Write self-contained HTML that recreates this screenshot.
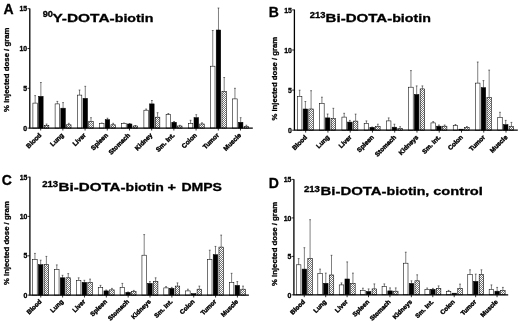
<!DOCTYPE html>
<html><head><meta charset="utf-8"><title>Biodistribution</title>
<style>
html,body{margin:0;padding:0;background:#fff;}
body{width:520px;height:322px;overflow:hidden;}
text{stroke:#000;stroke-width:0.3px;paint-order:stroke;}
svg{display:block;filter:blur(0.35px);font-family:"Liberation Sans",Arial,Helvetica,sans-serif;font-weight:bold;fill:#000;}
.ax{stroke:#000;stroke-width:1.3;fill:none;}
.tk{stroke:#000;stroke-width:0.8;fill:none;}
.eb{stroke:#000;stroke-width:0.5;fill:none;}
.bw{fill:#fff;stroke:#000;stroke-width:0.55;}
.bb{fill:#000;stroke:#000;stroke-width:0.55;}
.bh{fill:url(#h);stroke:#000;stroke-width:0.55;}
.yl{font-size:6.9px;text-anchor:end;}
.xl{font-size:6.5px;text-anchor:end;stroke-width:0.4px;}
.yt{font-size:7.4px;}
.pl{font-size:14px;}
.tt{font-size:11.6px;}
.sup{font-size:8.5px;}
</style></head><body>
<svg width="520" height="322" viewBox="0 0 520 322">
<defs><pattern id="h" width="2" height="2" patternUnits="userSpaceOnUse"><rect width="2" height="2" fill="#fff"/><path d="M-0.5 0.5L0.5 -0.5M0 2L2 0M1.5 2.5L2.5 1.5" stroke="#000" stroke-width="0.55" fill="none"/></pattern></defs>
<rect width="520" height="322" fill="#fff"/>

<g id="panelA">
<text class="pl" x="3.6" y="13.7">A</text>
<text class="sup" x="42.7" y="17.2" textLength="10.3" lengthAdjust="spacingAndGlyphs">90</text>
<text class="tt" y="22.2"><tspan x="52.4" textLength="62.3" lengthAdjust="spacingAndGlyphs">Y-DOTA-</tspan><tspan x="114.7" textLength="38.8" lengthAdjust="spacingAndGlyphs">biotin</tspan></text>
<text class="yt" transform="translate(9.4,111.9) rotate(-90)" textLength="84.4" lengthAdjust="spacingAndGlyphs">% injected dose / gram</text>
<path class="eb" d="M35.15 103.1V95.6M34.25 95.6h1.8"/>
<rect class="bw" x="32.90" y="103.1" width="4.5" height="25.0"/>
<path class="eb" d="M40.87 96.4V82.5M39.97 82.5h1.8"/>
<rect class="bb" x="38.62" y="96.4" width="4.5" height="31.7"/>
<path class="eb" d="M46.59 125.3V124.0M45.69 124.0h1.8"/>
<rect class="bh" x="44.34" y="125.3" width="4.5" height="2.8"/>
<path class="tk" d="M40.67 128.1v2.4"/>
<text class="xl" style="font-size:6.5px" transform="translate(41.87,135.6) rotate(-45)">Blood</text>
<path class="eb" d="M57.35 103.9V101.4M56.45 101.4h1.8"/>
<rect class="bw" x="55.10" y="103.9" width="4.5" height="24.2"/>
<path class="eb" d="M63.07 108.2V102.6M62.17 102.6h1.8"/>
<rect class="bb" x="60.82" y="108.2" width="4.5" height="19.9"/>
<path class="eb" d="M68.79 124.8V123.3M67.89 123.3h1.8"/>
<rect class="bh" x="66.54" y="124.8" width="4.5" height="3.3"/>
<path class="tk" d="M62.87 128.1v2.4"/>
<text class="xl" style="font-size:6.5px" transform="translate(64.07,135.6) rotate(-45)">Lung</text>
<path class="eb" d="M79.55 95.1V90.0M78.65 90.0h1.8"/>
<rect class="bw" x="77.30" y="95.1" width="4.5" height="33.0"/>
<path class="eb" d="M85.27 98.4V86.3M84.37 86.3h1.8"/>
<rect class="bb" x="83.02" y="98.4" width="4.5" height="29.7"/>
<path class="eb" d="M90.99 121.5V117.7M90.09 117.7h1.8"/>
<rect class="bh" x="88.74" y="121.5" width="4.5" height="6.6"/>
<path class="tk" d="M85.07 128.1v2.4"/>
<text class="xl" style="font-size:6.5px" transform="translate(86.27,135.6) rotate(-45)">Liver</text>
<path class="eb" d="M101.75 123.3V123.0M100.85 123.0h1.8"/>
<rect class="bw" x="99.50" y="123.3" width="4.5" height="4.8"/>
<path class="eb" d="M107.47 119.7V118.2M106.57 118.2h1.8"/>
<rect class="bb" x="105.22" y="119.7" width="4.5" height="8.4"/>
<path class="eb" d="M113.19 124.8V123.3M112.29 123.3h1.8"/>
<rect class="bh" x="110.94" y="124.8" width="4.5" height="3.3"/>
<path class="tk" d="M107.27 128.1v2.4"/>
<text class="xl" style="font-size:6.5px" transform="translate(108.47,135.6) rotate(-45)">Spleen</text>
<path class="eb" d="M123.95 123.3V123.0M123.05 123.0h1.8"/>
<rect class="bw" x="121.70" y="123.3" width="4.5" height="4.8"/>
<path class="eb" d="M129.67 124.0V123.5M128.77 123.5h1.8"/>
<rect class="bb" x="127.42" y="124.0" width="4.5" height="4.1"/>
<path class="eb" d="M135.39 126.0V125.5M134.49 125.5h1.8"/>
<rect class="bh" x="133.14" y="126.0" width="4.5" height="2.1"/>
<path class="tk" d="M129.47 128.1v2.4"/>
<text class="xl" style="font-size:6.5px" transform="translate(130.67,135.6) rotate(-45)">Stomach</text>
<path class="eb" d="M146.15 110.2V109.0M145.25 109.0h1.8"/>
<rect class="bw" x="143.90" y="110.2" width="4.5" height="17.9"/>
<path class="eb" d="M151.87 103.9V100.5M150.97 100.5h1.8"/>
<rect class="bb" x="149.62" y="103.9" width="4.5" height="24.2"/>
<path class="eb" d="M157.59 117.2V112.7M156.69 112.7h1.8"/>
<rect class="bh" x="155.34" y="117.2" width="4.5" height="10.9"/>
<path class="tk" d="M151.67 128.1v2.4"/>
<text class="xl" style="font-size:6.5px" transform="translate(152.87,135.6) rotate(-45)">Kidney</text>
<path class="eb" d="M168.35 114.7V113.5M167.45 113.5h1.8"/>
<rect class="bw" x="166.10" y="114.7" width="4.5" height="13.4"/>
<path class="eb" d="M174.07 122.3V121.5M173.17 121.5h1.8"/>
<rect class="bb" x="171.82" y="122.3" width="4.5" height="5.8"/>
<path class="eb" d="M179.79 126.0V125.3M178.89 125.3h1.8"/>
<rect class="bh" x="177.54" y="126.0" width="4.5" height="2.1"/>
<path class="tk" d="M173.87 128.1v2.4"/>
<text class="xl" style="font-size:6.5px" transform="translate(175.07,135.6) rotate(-45)">Sm. Int.</text>
<path class="eb" d="M190.55 123.6V120.3M189.65 120.3h1.8"/>
<rect class="bw" x="188.30" y="123.6" width="4.5" height="4.5"/>
<path class="eb" d="M196.27 117.7V114.7M195.37 114.7h1.8"/>
<rect class="bb" x="194.02" y="117.7" width="4.5" height="10.4"/>
<path class="eb" d="M201.99 124.0V122.8M201.09 122.8h1.8"/>
<rect class="bh" x="199.74" y="124.0" width="4.5" height="4.1"/>
<path class="tk" d="M196.07 128.1v2.4"/>
<text class="xl" style="font-size:6.5px" transform="translate(197.27,135.6) rotate(-45)">Colon</text>
<path class="eb" d="M212.75 66.2V30.5M211.85 30.5h1.8"/>
<rect class="bw" x="210.50" y="66.2" width="4.5" height="61.8"/>
<path class="eb" d="M218.47 30.0V8.0M217.57 8.0h1.8"/>
<rect class="bb" x="216.22" y="30.0" width="4.5" height="98.1"/>
<path class="eb" d="M224.19 91.3V77.5M223.29 77.5h1.8"/>
<rect class="bh" x="221.94" y="91.3" width="4.5" height="36.8"/>
<path class="tk" d="M218.27 128.1v2.4"/>
<text class="xl" style="font-size:6.5px" transform="translate(219.47,135.6) rotate(-45)">Tumor</text>
<path class="eb" d="M234.95 98.9V88.3M234.05 88.3h1.8"/>
<rect class="bw" x="232.70" y="98.9" width="4.5" height="29.2"/>
<path class="eb" d="M240.67 122.3V117.7M239.77 117.7h1.8"/>
<rect class="bb" x="238.42" y="122.3" width="4.5" height="5.8"/>
<path class="eb" d="M246.39 126.6V125.2M245.49 125.2h1.8"/>
<rect class="bh" x="244.14" y="126.6" width="4.5" height="1.5"/>
<path class="tk" d="M240.47 128.1v2.4"/>
<text class="xl" style="font-size:6.5px" transform="translate(241.67,135.6) rotate(-45)">Muscle</text>
<path class="ax" d="M29.8 8.4V128.1H252.8"/>
<path class="tk" d="M27.5 128.1h2.3"/>
<text class="yl" x="27.2" y="131.20">0</text>
<path class="tk" d="M27.5 88.3h2.3"/>
<text class="yl" x="27.2" y="90.91">5</text>
<path class="tk" d="M27.5 48.5h2.3"/>
<text class="yl" x="27.2" y="51.13">10</text>
<path class="tk" d="M27.5 8.7h2.3"/>
<text class="yl" x="27.2" y="11.34">15</text>
</g>
<g id="panelB">
<text class="pl" x="268.8" y="16.5">B</text>
<text class="sup" x="309.7" y="17.8" textLength="15.7" lengthAdjust="spacingAndGlyphs">213</text>
<text class="tt" y="22.2"><tspan x="325.6" textLength="66.6" lengthAdjust="spacingAndGlyphs">Bi-DOTA-</tspan><tspan x="392.2" textLength="38.7" lengthAdjust="spacingAndGlyphs">biotin</tspan></text>
<text class="yt" transform="translate(276.5,120.6) rotate(-90)" textLength="83.7" lengthAdjust="spacingAndGlyphs">% injected dose / gram</text>
<path class="eb" d="M299.65 96.5V90.2M298.75 90.2h1.8"/>
<rect class="bw" x="297.40" y="96.5" width="4.5" height="33.7"/>
<path class="eb" d="M305.37 109.0V101.5M304.47 101.5h1.8"/>
<rect class="bb" x="303.12" y="109.0" width="4.5" height="21.2"/>
<path class="eb" d="M311.09 109.0V90.7M310.19 90.7h1.8"/>
<rect class="bh" x="308.84" y="109.0" width="4.5" height="21.2"/>
<path class="tk" d="M305.67 130.2v2.4"/>
<text class="xl" style="font-size:6.45px" transform="translate(307.57,137.7) rotate(-45)">Blood</text>
<path class="eb" d="M321.91 103.3V97.2M321.01 97.2h1.8"/>
<rect class="bw" x="319.66" y="103.3" width="4.5" height="26.9"/>
<path class="eb" d="M327.63 117.9V114.0M326.73 114.0h1.8"/>
<rect class="bb" x="325.38" y="117.9" width="4.5" height="12.3"/>
<path class="eb" d="M333.35 118.4V108.3M332.45 108.3h1.8"/>
<rect class="bh" x="331.10" y="118.4" width="4.5" height="11.8"/>
<path class="tk" d="M327.93 130.2v2.4"/>
<text class="xl" style="font-size:6.45px" transform="translate(329.83,137.7) rotate(-45)">Lung</text>
<path class="eb" d="M344.17 117.1V113.3M343.27 113.3h1.8"/>
<rect class="bw" x="341.92" y="117.1" width="4.5" height="13.1"/>
<path class="eb" d="M349.89 122.1V120.4M348.99 120.4h1.8"/>
<rect class="bb" x="347.64" y="122.1" width="4.5" height="8.1"/>
<path class="eb" d="M355.61 121.1V114.1M354.71 114.1h1.8"/>
<rect class="bh" x="353.36" y="121.1" width="4.5" height="9.1"/>
<path class="tk" d="M350.19 130.2v2.4"/>
<text class="xl" style="font-size:6.45px" transform="translate(352.09,137.7) rotate(-45)">Liver</text>
<path class="eb" d="M366.43 123.4V120.9M365.53 120.9h1.8"/>
<rect class="bw" x="364.18" y="123.4" width="4.5" height="6.8"/>
<path class="eb" d="M372.15 127.4V127.0M371.25 127.0h1.8"/>
<rect class="bb" x="369.90" y="127.4" width="4.5" height="2.8"/>
<path class="eb" d="M377.87 126.7V124.2M376.97 124.2h1.8"/>
<rect class="bh" x="375.62" y="126.7" width="4.5" height="3.5"/>
<path class="tk" d="M372.45 130.2v2.4"/>
<text class="xl" style="font-size:6.45px" transform="translate(374.35,137.7) rotate(-45)">Spleen</text>
<path class="eb" d="M388.69 120.9V117.9M387.79 117.9h1.8"/>
<rect class="bw" x="386.44" y="120.9" width="4.5" height="9.3"/>
<path class="eb" d="M394.41 127.2V124.2M393.51 124.2h1.8"/>
<rect class="bb" x="392.16" y="127.2" width="4.5" height="3.0"/>
<path class="eb" d="M400.13 128.4V126.7M399.23 126.7h1.8"/>
<rect class="bh" x="397.88" y="128.4" width="4.5" height="1.8"/>
<path class="tk" d="M394.71 130.2v2.4"/>
<text class="xl" style="font-size:6.45px" transform="translate(396.61,137.7) rotate(-45)">Stomach</text>
<path class="eb" d="M410.95 87.2V70.6M410.05 70.6h1.8"/>
<rect class="bw" x="408.70" y="87.2" width="4.5" height="43.0"/>
<path class="eb" d="M416.67 94.5V85.9M415.77 85.9h1.8"/>
<rect class="bb" x="414.42" y="94.5" width="4.5" height="35.7"/>
<path class="eb" d="M422.39 88.9V85.9M421.49 85.9h1.8"/>
<rect class="bh" x="420.14" y="88.9" width="4.5" height="41.3"/>
<path class="tk" d="M416.97 130.2v2.4"/>
<text class="xl" style="font-size:6.45px" transform="translate(418.87,137.7) rotate(-45)">Kidneys</text>
<path class="eb" d="M433.21 122.9V121.6M432.31 121.6h1.8"/>
<rect class="bw" x="430.96" y="122.9" width="4.5" height="7.3"/>
<path class="eb" d="M438.93 126.2V125.0M438.03 125.0h1.8"/>
<rect class="bb" x="436.68" y="126.2" width="4.5" height="4.0"/>
<path class="eb" d="M444.65 126.2V125.0M443.75 125.0h1.8"/>
<rect class="bh" x="442.40" y="126.2" width="4.5" height="4.0"/>
<path class="tk" d="M439.23 130.2v2.4"/>
<text class="xl" style="font-size:6.45px" transform="translate(441.13,137.7) rotate(-45)">Sm. Int.</text>
<path class="eb" d="M455.47 125.7V124.5M454.57 124.5h1.8"/>
<rect class="bw" x="453.22" y="125.7" width="4.5" height="4.5"/>
<rect class="bb" x="458.94" y="129.2" width="4.5" height="1.0"/>
<path class="eb" d="M466.91 127.4V126.5M466.01 126.5h1.8"/>
<rect class="bh" x="464.66" y="127.4" width="4.5" height="2.8"/>
<path class="tk" d="M461.49 130.2v2.4"/>
<text class="xl" style="font-size:6.45px" transform="translate(463.39,137.7) rotate(-45)">Colon</text>
<path class="eb" d="M477.73 83.1V62.0M476.83 62.0h1.8"/>
<rect class="bw" x="475.48" y="83.1" width="4.5" height="47.1"/>
<path class="eb" d="M483.45 87.7V80.6M482.55 80.6h1.8"/>
<rect class="bb" x="481.20" y="87.7" width="4.5" height="42.5"/>
<path class="eb" d="M489.17 97.7V70.1M488.27 70.1h1.8"/>
<rect class="bh" x="486.92" y="97.7" width="4.5" height="32.5"/>
<path class="tk" d="M483.75 130.2v2.4"/>
<text class="xl" style="font-size:6.45px" transform="translate(485.65,137.7) rotate(-45)">Tumor</text>
<path class="eb" d="M499.99 117.4V112.3M499.09 112.3h1.8"/>
<rect class="bw" x="497.74" y="117.4" width="4.5" height="12.8"/>
<path class="eb" d="M505.71 124.7V120.4M504.81 120.4h1.8"/>
<rect class="bb" x="503.46" y="124.7" width="4.5" height="5.5"/>
<path class="eb" d="M511.43 126.7V122.4M510.53 122.4h1.8"/>
<rect class="bh" x="509.18" y="126.7" width="4.5" height="3.5"/>
<path class="tk" d="M506.01 130.2v2.4"/>
<text class="xl" style="font-size:6.45px" transform="translate(507.91,137.7) rotate(-45)">Muscle</text>
<path class="ax" d="M294.4 9.5V130.2H517.8"/>
<path class="tk" d="M292.1 130.2h2.3"/>
<text class="yl" x="291.8" y="133.30">0</text>
<path class="tk" d="M292.1 90.1h2.3"/>
<text class="yl" x="291.8" y="92.70">5</text>
<path class="tk" d="M292.1 50.0h2.3"/>
<text class="yl" x="291.8" y="52.60">10</text>
<path class="tk" d="M292.1 9.9h2.3"/>
<text class="yl" x="291.8" y="12.50">15</text>
</g>
<g id="panelC">
<text class="pl" x="1.7" y="184.7">C</text>
<text class="sup" x="42.2" y="186.7" textLength="16.0" lengthAdjust="spacingAndGlyphs">213</text>
<text class="tt" y="190.9"><tspan x="58.5" textLength="67.1" lengthAdjust="spacingAndGlyphs">Bi-DOTA-</tspan><tspan x="125.6" textLength="38.2" lengthAdjust="spacingAndGlyphs">biotin</tspan><tspan x="167.6" textLength="8.5" lengthAdjust="spacingAndGlyphs">+</tspan><tspan x="181.4" textLength="40.6" lengthAdjust="spacingAndGlyphs">DMPS</tspan></text>
<text class="yt" transform="translate(9.3,285.0) rotate(-90)" textLength="83.8" lengthAdjust="spacingAndGlyphs">% injected dose / gram</text>
<path class="eb" d="M34.95 259.7V253.4M34.05 253.4h1.8"/>
<rect class="bw" x="32.70" y="259.7" width="4.5" height="35.4"/>
<path class="eb" d="M40.67 264.7V260.2M39.77 260.2h1.8"/>
<rect class="bb" x="38.42" y="264.7" width="4.5" height="30.4"/>
<path class="eb" d="M46.39 264.7V256.4M45.49 256.4h1.8"/>
<rect class="bh" x="44.14" y="264.7" width="4.5" height="30.4"/>
<path class="tk" d="M40.77 295.1v2.4"/>
<text class="xl" style="font-size:6.35px" transform="translate(41.97,302.0) rotate(-45)">Blood</text>
<path class="eb" d="M56.80 269.6V264.9M55.90 264.9h1.8"/>
<rect class="bw" x="54.55" y="269.6" width="4.5" height="25.5"/>
<path class="eb" d="M62.52 277.8V275.3M61.62 275.3h1.8"/>
<rect class="bb" x="60.27" y="277.8" width="4.5" height="17.3"/>
<path class="eb" d="M68.24 277.8V273.6M67.34 273.6h1.8"/>
<rect class="bh" x="65.99" y="277.8" width="4.5" height="17.3"/>
<path class="tk" d="M62.62 295.1v2.4"/>
<text class="xl" style="font-size:6.35px" transform="translate(63.82,302.0) rotate(-45)">Lung</text>
<path class="eb" d="M78.65 280.3V277.8M77.75 277.8h1.8"/>
<rect class="bw" x="76.40" y="280.3" width="4.5" height="14.8"/>
<path class="eb" d="M84.37 282.4V280.3M83.47 280.3h1.8"/>
<rect class="bb" x="82.12" y="282.4" width="4.5" height="12.7"/>
<path class="eb" d="M90.09 282.4V279.1M89.19 279.1h1.8"/>
<rect class="bh" x="87.84" y="282.4" width="4.5" height="12.7"/>
<path class="tk" d="M84.47 295.1v2.4"/>
<text class="xl" style="font-size:6.35px" transform="translate(85.67,302.0) rotate(-45)">Liver</text>
<path class="eb" d="M100.50 287.4V285.4M99.60 285.4h1.8"/>
<rect class="bw" x="98.25" y="287.4" width="4.5" height="7.7"/>
<path class="eb" d="M106.22 290.9V290.0M105.32 290.0h1.8"/>
<rect class="bb" x="103.97" y="290.9" width="4.5" height="4.2"/>
<path class="eb" d="M111.94 289.9V288.4M111.04 288.4h1.8"/>
<rect class="bh" x="109.69" y="289.9" width="4.5" height="5.2"/>
<path class="tk" d="M106.32 295.1v2.4"/>
<text class="xl" style="font-size:6.35px" transform="translate(107.52,302.0) rotate(-45)">Spleen</text>
<path class="eb" d="M122.35 287.4V283.4M121.45 283.4h1.8"/>
<rect class="bw" x="120.10" y="287.4" width="4.5" height="7.7"/>
<path class="eb" d="M128.07 292.4V292.0M127.17 292.0h1.8"/>
<rect class="bb" x="125.82" y="292.4" width="4.5" height="2.7"/>
<path class="eb" d="M133.79 291.7V290.4M132.89 290.4h1.8"/>
<rect class="bh" x="131.54" y="291.7" width="4.5" height="3.4"/>
<path class="tk" d="M128.17 295.1v2.4"/>
<text class="xl" style="font-size:6.35px" transform="translate(129.37,302.0) rotate(-45)">Stomach</text>
<path class="eb" d="M144.20 255.2V234.6M143.30 234.6h1.8"/>
<rect class="bw" x="141.95" y="255.2" width="4.5" height="39.9"/>
<path class="eb" d="M149.92 283.4V281.6M149.02 281.6h1.8"/>
<rect class="bb" x="147.67" y="283.4" width="4.5" height="11.7"/>
<path class="eb" d="M155.64 281.6V277.8M154.74 277.8h1.8"/>
<rect class="bh" x="153.39" y="281.6" width="4.5" height="13.5"/>
<path class="tk" d="M150.02 295.1v2.4"/>
<text class="xl" style="font-size:6.35px" transform="translate(151.22,302.0) rotate(-45)">Kidneys</text>
<path class="eb" d="M166.05 287.9V286.6M165.15 286.6h1.8"/>
<rect class="bw" x="163.80" y="287.9" width="4.5" height="7.2"/>
<path class="eb" d="M171.77 288.4V287.4M170.87 287.4h1.8"/>
<rect class="bb" x="169.52" y="288.4" width="4.5" height="6.7"/>
<path class="eb" d="M177.49 286.1V282.9M176.59 282.9h1.8"/>
<rect class="bh" x="175.24" y="286.1" width="4.5" height="9.0"/>
<path class="tk" d="M171.87 295.1v2.4"/>
<text class="xl" style="font-size:6.35px" transform="translate(173.07,302.0) rotate(-45)">Sm. Int.</text>
<path class="eb" d="M187.90 290.9V289.2M187.00 289.2h1.8"/>
<rect class="bw" x="185.65" y="290.9" width="4.5" height="4.2"/>
<rect class="bb" x="191.37" y="293.7" width="4.5" height="1.4"/>
<path class="eb" d="M199.34 289.2V286.1M198.44 286.1h1.8"/>
<rect class="bh" x="197.09" y="289.2" width="4.5" height="5.9"/>
<path class="tk" d="M193.72 295.1v2.4"/>
<text class="xl" style="font-size:6.35px" transform="translate(194.92,302.0) rotate(-45)">Colon</text>
<path class="eb" d="M209.75 259.7V250.2M208.85 250.2h1.8"/>
<rect class="bw" x="207.50" y="259.7" width="4.5" height="35.4"/>
<path class="eb" d="M215.47 254.7V246.4M214.57 246.4h1.8"/>
<rect class="bb" x="213.22" y="254.7" width="4.5" height="40.4"/>
<path class="eb" d="M221.19 247.1V235.1M220.29 235.1h1.8"/>
<rect class="bh" x="218.94" y="247.1" width="4.5" height="48.0"/>
<path class="tk" d="M215.57 295.1v2.4"/>
<text class="xl" style="font-size:6.35px" transform="translate(216.77,302.0) rotate(-45)">Tumor</text>
<path class="eb" d="M231.60 282.4V273.3M230.70 273.3h1.8"/>
<rect class="bw" x="229.35" y="282.4" width="4.5" height="12.7"/>
<path class="eb" d="M237.32 285.4V281.6M236.42 281.6h1.8"/>
<rect class="bb" x="235.07" y="285.4" width="4.5" height="9.7"/>
<path class="eb" d="M243.04 289.2V286.1M242.14 286.1h1.8"/>
<rect class="bh" x="240.79" y="289.2" width="4.5" height="5.9"/>
<path class="tk" d="M237.42 295.1v2.4"/>
<text class="xl" style="font-size:6.35px" transform="translate(238.62,302.0) rotate(-45)">Muscle</text>
<path class="ax" d="M29.9 176.8V295.1H248.9"/>
<path class="tk" d="M27.6 295.1h2.3"/>
<text class="yl" x="27.3" y="298.20">0</text>
<path class="tk" d="M27.6 255.8h2.3"/>
<text class="yl" x="27.3" y="258.35">5</text>
<path class="tk" d="M27.6 216.4h2.3"/>
<text class="yl" x="27.3" y="219.00">10</text>
<path class="tk" d="M27.6 177.1h2.3"/>
<text class="yl" x="27.3" y="179.65">15</text>
</g>
<g id="panelD">
<text class="pl" x="268.8" y="187.7">D</text>
<text class="sup" x="303.9" y="191.5" textLength="16.0" lengthAdjust="spacingAndGlyphs">213</text>
<text class="tt" y="195.2"><tspan x="320.6" textLength="66.0" lengthAdjust="spacingAndGlyphs">Bi-DOTA-</tspan><tspan x="386.6" textLength="42.7" lengthAdjust="spacingAndGlyphs">biotin,</tspan><tspan x="433.2" textLength="49.7" lengthAdjust="spacingAndGlyphs">control</tspan></text>
<text class="yt" transform="translate(276.6,286.0) rotate(-90)" textLength="84.1" lengthAdjust="spacingAndGlyphs">% injected dose / gram</text>
<path class="eb" d="M298.65 264.8V258.6M297.75 258.6h1.8"/>
<rect class="bw" x="296.40" y="264.8" width="4.5" height="30.0"/>
<path class="eb" d="M304.37 269.1V247.7M303.47 247.7h1.8"/>
<rect class="bb" x="302.12" y="269.1" width="4.5" height="25.7"/>
<path class="eb" d="M310.09 258.6V219.7M309.19 219.7h1.8"/>
<rect class="bh" x="307.84" y="258.6" width="4.5" height="36.2"/>
<path class="tk" d="M304.27 294.8v2.4"/>
<text class="xl" style="font-size:6.3px" transform="translate(305.37,302.3) rotate(-45)">Blood</text>
<path class="eb" d="M320.07 273.4V269.1M319.17 269.1h1.8"/>
<rect class="bw" x="317.82" y="273.4" width="4.5" height="21.4"/>
<path class="eb" d="M325.79 283.3V273.1M324.89 273.1h1.8"/>
<rect class="bb" x="323.54" y="283.3" width="4.5" height="11.5"/>
<path class="eb" d="M331.51 275.0V255.3M330.61 255.3h1.8"/>
<rect class="bh" x="329.26" y="275.0" width="4.5" height="19.8"/>
<path class="tk" d="M325.69 294.8v2.4"/>
<text class="xl" style="font-size:6.3px" transform="translate(326.79,302.3) rotate(-45)">Lung</text>
<path class="eb" d="M341.49 284.9V282.9M340.59 282.9h1.8"/>
<rect class="bw" x="339.24" y="284.9" width="4.5" height="9.9"/>
<path class="eb" d="M347.21 279.0V261.9M346.31 261.9h1.8"/>
<rect class="bb" x="344.96" y="279.0" width="4.5" height="15.8"/>
<path class="eb" d="M352.93 283.3V273.1M352.03 273.1h1.8"/>
<rect class="bh" x="350.68" y="283.3" width="4.5" height="11.5"/>
<path class="tk" d="M347.11 294.8v2.4"/>
<text class="xl" style="font-size:6.3px" transform="translate(348.21,302.3) rotate(-45)">Liver</text>
<path class="eb" d="M362.91 290.5V288.2M362.01 288.2h1.8"/>
<rect class="bw" x="360.66" y="290.5" width="4.5" height="4.3"/>
<path class="eb" d="M368.63 291.5V288.9M367.73 288.9h1.8"/>
<rect class="bb" x="366.38" y="291.5" width="4.5" height="3.3"/>
<path class="eb" d="M374.35 288.9V283.9M373.45 283.9h1.8"/>
<rect class="bh" x="372.10" y="288.9" width="4.5" height="5.9"/>
<path class="tk" d="M368.53 294.8v2.4"/>
<text class="xl" style="font-size:6.3px" transform="translate(369.63,302.3) rotate(-45)">Spleen</text>
<path class="eb" d="M384.33 286.6V283.9M383.43 283.9h1.8"/>
<rect class="bw" x="382.08" y="286.6" width="4.5" height="8.2"/>
<path class="eb" d="M390.05 290.9V287.9M389.15 287.9h1.8"/>
<rect class="bb" x="387.80" y="290.9" width="4.5" height="3.9"/>
<path class="eb" d="M395.77 291.2V287.9M394.87 287.9h1.8"/>
<rect class="bh" x="393.52" y="291.2" width="4.5" height="3.6"/>
<path class="tk" d="M389.95 294.8v2.4"/>
<text class="xl" style="font-size:6.3px" transform="translate(391.05,302.3) rotate(-45)">Stomach</text>
<path class="eb" d="M405.75 263.2V252.2M404.85 252.2h1.8"/>
<rect class="bw" x="403.50" y="263.2" width="4.5" height="31.6"/>
<path class="eb" d="M411.47 283.4V280.8M410.57 280.8h1.8"/>
<rect class="bb" x="409.22" y="283.4" width="4.5" height="11.4"/>
<path class="eb" d="M417.19 280.8V274.8M416.29 274.8h1.8"/>
<rect class="bh" x="414.94" y="280.8" width="4.5" height="14.0"/>
<path class="tk" d="M411.37 294.8v2.4"/>
<text class="xl" style="font-size:6.3px" transform="translate(412.47,302.3) rotate(-45)">Kidneys</text>
<path class="eb" d="M427.17 289.4V288.0M426.27 288.0h1.8"/>
<rect class="bw" x="424.92" y="289.4" width="4.5" height="5.4"/>
<path class="eb" d="M432.89 289.4V288.4M431.99 288.4h1.8"/>
<rect class="bb" x="430.64" y="289.4" width="4.5" height="5.4"/>
<path class="eb" d="M438.61 288.4V285.9M437.71 285.9h1.8"/>
<rect class="bh" x="436.36" y="288.4" width="4.5" height="6.4"/>
<path class="tk" d="M432.79 294.8v2.4"/>
<text class="xl" style="font-size:6.3px" transform="translate(433.89,302.3) rotate(-45)">Sm. Int.</text>
<path class="eb" d="M448.59 291.7V290.4M447.69 290.4h1.8"/>
<rect class="bw" x="446.34" y="291.7" width="4.5" height="3.1"/>
<rect class="bb" x="452.06" y="293.2" width="4.5" height="1.6"/>
<path class="eb" d="M460.03 288.4V284.1M459.13 284.1h1.8"/>
<rect class="bh" x="457.78" y="288.4" width="4.5" height="6.4"/>
<path class="tk" d="M454.21 294.8v2.4"/>
<text class="xl" style="font-size:6.3px" transform="translate(455.31,302.3) rotate(-45)">Colon</text>
<path class="eb" d="M470.01 274.6V269.8M469.11 269.8h1.8"/>
<rect class="bw" x="467.76" y="274.6" width="4.5" height="20.2"/>
<path class="eb" d="M475.73 281.4V274.1M474.83 274.1h1.8"/>
<rect class="bb" x="473.48" y="281.4" width="4.5" height="13.4"/>
<path class="eb" d="M481.45 274.6V269.8M480.55 269.8h1.8"/>
<rect class="bh" x="479.20" y="274.6" width="4.5" height="20.2"/>
<path class="tk" d="M475.63 294.8v2.4"/>
<text class="xl" style="font-size:6.3px" transform="translate(476.73,302.3) rotate(-45)">Tumor</text>
<path class="eb" d="M491.43 289.4V284.9M490.53 284.9h1.8"/>
<rect class="bw" x="489.18" y="289.4" width="4.5" height="5.4"/>
<path class="eb" d="M497.15 291.2V287.4M496.25 287.4h1.8"/>
<rect class="bb" x="494.90" y="291.2" width="4.5" height="3.6"/>
<path class="eb" d="M502.87 290.4V287.4M501.97 287.4h1.8"/>
<rect class="bh" x="500.62" y="290.4" width="4.5" height="4.4"/>
<path class="tk" d="M497.05 294.8v2.4"/>
<text class="xl" style="font-size:6.3px" transform="translate(498.15,302.3) rotate(-45)">Muscle</text>
<path class="ax" d="M293.9 179.2V294.8H508.2"/>
<path class="tk" d="M291.6 294.8h2.3"/>
<text class="yl" x="291.3" y="297.90">0</text>
<path class="tk" d="M291.6 256.4h2.3"/>
<text class="yl" x="291.3" y="258.95">5</text>
<path class="tk" d="M291.6 217.9h2.3"/>
<text class="yl" x="291.3" y="220.50">10</text>
<path class="tk" d="M291.6 179.4h2.3"/>
<text class="yl" x="291.3" y="182.05">15</text>
</g>
</svg></body></html>
